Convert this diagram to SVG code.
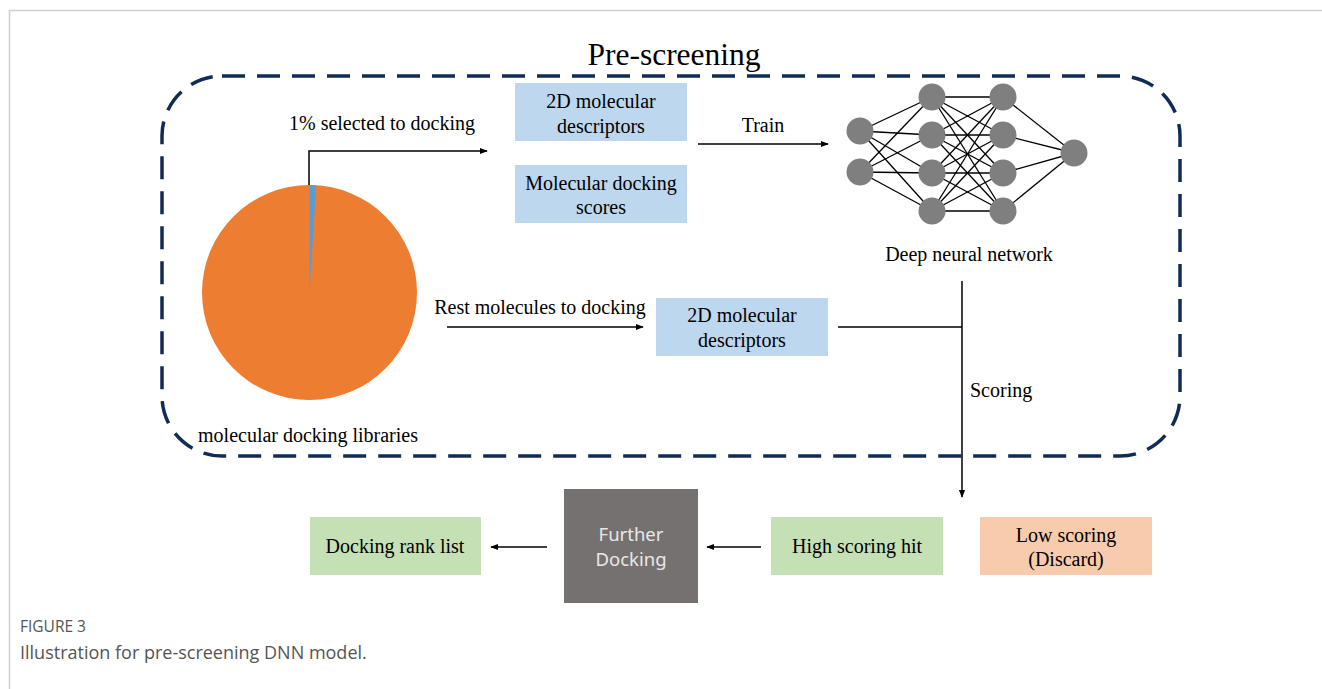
<svg xmlns="http://www.w3.org/2000/svg" width="1322" height="689" viewBox="0 0 1322 689">
<defs>
<style>
.serif{font-family:"Liberation Serif","Times New Roman",serif;fill:#000;}
.t18{font-size:20px;}
.box-blue{fill:#bdd7ee;}
.box-green{fill:#c5e0b4;}
.box-orange{fill:#f8cbad;}
.conn{stroke:#000;stroke-width:1.5;fill:none;}
.nn line{stroke:#000;stroke-width:1.3;}
.neuron{fill:#7f7f7f;}
.cap{font-family:"Open Sans","Noto Sans",sans-serif;fill:#555;}
</style>
<marker id="arr" viewBox="0 0 10 10" refX="9" refY="5" markerWidth="8" markerHeight="8" markerUnits="userSpaceOnUse" orient="auto">
<path d="M0,1 L10,5 L0,9 Z" fill="#000"/>
</marker>
</defs>
<rect width="1322" height="689" fill="#fff"/>
<g id="frame">
<path d="M9.5,689 L9.5,10.5 L1322,10.5" fill="none" stroke="#d0d0d0" stroke-width="1.5"/>
</g>
<g id="prescreening-box">
<rect x="162" y="76" width="1018" height="380" rx="60" ry="60" fill="none" stroke="#102b56" stroke-width="3.5" stroke-dasharray="23 12"/>
<text class="serif" x="674" y="65" font-size="31.5" text-anchor="middle">Pre-screening</text>
</g>
<g id="connectors">
<path class="conn" d="M309,185 L309,151 L487,151" marker-end="url(#arr)"/>
<path class="conn" d="M698,144 L828,144" marker-end="url(#arr)"/>
<path class="conn" d="M447,327 L643,327" marker-end="url(#arr)"/>
<path class="conn" d="M838,327 L962,327"/>
<path class="conn" d="M962,281 L962,497" marker-end="url(#arr)"/>
<path class="conn" d="M761,547 L707,547" marker-end="url(#arr)"/>
<path class="conn" d="M547,547 L491,547" marker-end="url(#arr)"/>
<text class="serif t18" x="382" y="130" text-anchor="middle">1% selected to docking</text>
<text class="serif t18" x="763" y="132" text-anchor="middle">Train</text>
<text class="serif t18" x="540" y="314" text-anchor="middle">Rest molecules to docking</text>
<text class="serif t18" x="970" y="397">Scoring</text>
</g>
<g id="pie-libraries">
<circle cx="309.5" cy="292.5" r="107.5" fill="#ed7d31"/>
<path d="M309.5,292.5 L309.5,185 A107.5,107.5 0 0 1 316.2,185.2 Z" fill="#5b9bd5"/>
<text class="serif t18" x="308" y="442" text-anchor="middle">molecular docking libraries</text>
</g>
<g id="desc-top">
<rect class="box-blue" x="515" y="83" width="172" height="58"/>
<text class="serif t18" x="601" y="108" text-anchor="middle">2D molecular</text>
<text class="serif t18" x="601" y="133" text-anchor="middle">descriptors</text>
</g>
<g id="docking-scores">
<rect class="box-blue" x="515" y="165" width="172" height="58"/>
<text class="serif t18" x="601" y="190" text-anchor="middle">Molecular docking</text>
<text class="serif t18" x="601" y="214" text-anchor="middle">scores</text>
</g>
<g id="dnn">
<g class="nn">
<line x1="860" y1="131" x2="932" y2="97"/><line x1="860" y1="131" x2="932" y2="135"/><line x1="860" y1="131" x2="932" y2="173"/><line x1="860" y1="131" x2="932" y2="211"/>
<line x1="860" y1="172" x2="932" y2="97"/><line x1="860" y1="172" x2="932" y2="135"/><line x1="860" y1="172" x2="932" y2="173"/><line x1="860" y1="172" x2="932" y2="211"/>
<line x1="932" y1="97" x2="1003" y2="97"/><line x1="932" y1="97" x2="1003" y2="135"/><line x1="932" y1="97" x2="1003" y2="173"/><line x1="932" y1="97" x2="1003" y2="211"/>
<line x1="932" y1="135" x2="1003" y2="97"/><line x1="932" y1="135" x2="1003" y2="135"/><line x1="932" y1="135" x2="1003" y2="173"/><line x1="932" y1="135" x2="1003" y2="211"/>
<line x1="932" y1="173" x2="1003" y2="97"/><line x1="932" y1="173" x2="1003" y2="135"/><line x1="932" y1="173" x2="1003" y2="173"/><line x1="932" y1="173" x2="1003" y2="211"/>
<line x1="932" y1="211" x2="1003" y2="97"/><line x1="932" y1="211" x2="1003" y2="135"/><line x1="932" y1="211" x2="1003" y2="173"/><line x1="932" y1="211" x2="1003" y2="211"/>
<line x1="1003" y1="97" x2="1074" y2="153"/><line x1="1003" y1="135" x2="1074" y2="153"/><line x1="1003" y1="173" x2="1074" y2="153"/><line x1="1003" y1="211" x2="1074" y2="153"/>
</g>
<circle class="neuron" cx="860" cy="131" r="13.5"/><circle class="neuron" cx="860" cy="172" r="13.5"/>
<circle class="neuron" cx="932" cy="97" r="13.5"/><circle class="neuron" cx="932" cy="135" r="13.5"/><circle class="neuron" cx="932" cy="173" r="13.5"/><circle class="neuron" cx="932" cy="211" r="13.5"/>
<circle class="neuron" cx="1003" cy="97" r="13.5"/><circle class="neuron" cx="1003" cy="135" r="13.5"/><circle class="neuron" cx="1003" cy="173" r="13.5"/><circle class="neuron" cx="1003" cy="211" r="13.5"/>
<circle class="neuron" cx="1074" cy="153" r="13.5"/>
<text class="serif t18" x="969" y="261" text-anchor="middle">Deep neural network</text>
</g>
<g id="desc-rest">
<rect class="box-blue" x="656" y="298" width="172" height="58"/>
<text class="serif t18" x="742" y="322" text-anchor="middle">2D molecular</text>
<text class="serif t18" x="742" y="347" text-anchor="middle">descriptors</text>
</g>
<g id="high-scoring">
<rect class="box-green" x="771" y="517" width="172" height="58"/>
<text class="serif t18" x="857" y="553" text-anchor="middle">High scoring hit</text>
</g>
<g id="low-scoring">
<rect class="box-orange" x="980" y="517" width="172" height="58"/>
<text class="serif t18" x="1066" y="542" text-anchor="middle">Low scoring</text>
<text class="serif t18" x="1066" y="566" text-anchor="middle">(Discard)</text>
</g>
<g id="further-docking">
<rect x="564" y="489" width="134" height="114" fill="#767171"/>
<text x="631" y="541" font-family="'Noto Sans','Open Sans',sans-serif" font-size="18.5" fill="#e8e8e8" text-anchor="middle">Further</text>
<text x="631" y="566" font-family="'Noto Sans','Open Sans',sans-serif" font-size="18.5" fill="#e8e8e8" text-anchor="middle">Docking</text>
</g>
<g id="rank-list">
<rect class="box-green" x="310" y="517" width="171" height="58"/>
<text class="serif t18" x="395" y="553" text-anchor="middle">Docking rank list</text>
</g>
<g id="caption">
<text class="cap" x="20" y="632" font-size="15.5">FIGURE 3</text>
<text class="cap" x="20" y="659" font-size="18">Illustration for pre-screening DNN model.</text>
</g>
</svg>
